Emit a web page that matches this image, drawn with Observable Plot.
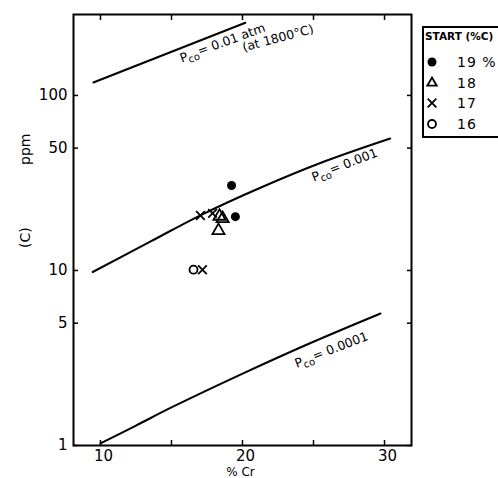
<!DOCTYPE html>
<html><head><meta charset="utf-8">
<script src="https://cdn.jsdelivr.net/npm/d3@7"></script>
<script src="https://cdn.jsdelivr.net/npm/@observablehq/plot@0.6"></script>
<style>html,body{margin:0;padding:0;background:#fff;overflow:hidden}</style>
</head><body><div id="chart"></div>
<script>
// ---- data ----
const xTickLabels = [10, 20, 30];
const xTickMarks = [10, 15, 20, 25, 30];
const yTickValues = [1, 5, 10, 50, 100];

const curveA_X = [9.5, 20.2];                 // Pco = 0.01 atm
const curveA_Y = [118.6, 260];
const curveB_X = [9.45, 13.5, 17.0, 21.3, 25.85, 30.4];   // Pco = 0.001
const curveB_Y = [9.8, 14.6, 20.6, 29.8, 42.2, 56.8];
const curveC_X = [10, 12.5, 15.07, 19.86, 24.79, 29.72];  // Pco = 0.0001
const curveC_Y = [1.027, 1.30, 1.66, 2.54, 3.85, 5.68];

const startLabels = ["19 %", "18", "17", "16"];
const s19X = [19.23, 19.5];          const s19Y = [30.6, 20.3];
const s18X = [18.38, 18.6, 18.31];   const s18Y = [20.4, 19.8, 16.9];
const s17X = [17.04, 17.89, 17.18];  const s17Y = [20.6, 21.2, 10.1];
const s16X = [16.55];                const s16Y = [10.1];

const noteText = ["Pco= 0.01 atm", "(at 1800°C)", "Pco= 0.001", "Pco= 0.0001"];
const noteX = [18.6, 22.5, 27.2, 26.27];
const noteY = [198, 212, 39.8, 3.49];
const noteAngle = [-20, -15, -21, -21];

// ---- tables ----
const zip = (xs, ys) => xs.map((x, i) => ({x, y: ys[i]}));
const curveA = zip(curveA_X, curveA_Y);
const curveB = zip(curveB_X, curveB_Y);
const curveC = zip(curveC_X, curveC_Y);
const s19 = zip(s19X, s19Y), s18 = zip(s18X, s18Y), s17 = zip(s17X, s17Y), s16 = zip(s16X, s16Y);
const notes = noteText.map((t, i) => ({t, x: noteX[i], y: noteY[i], a: noteAngle[i]}));

const FONT = "DejaVu Sans";
const lineOpts = {x: "x", y: "y", stroke: "black", strokeWidth: 2, curve: "catmull-rom"};

const svg = Plot.plot({
  width: 498, height: 478,
  marginLeft: 73, marginRight: 87, marginTop: 14, marginBottom: 33,
  style: {fontFamily: FONT, fontSize: "14px", background: "white", color: "black"},
  x: {domain: [8.1, 31.9]},
  y: {type: "log", domain: [1, 290]},
  marks: [
    Plot.frame({stroke: "black", strokeWidth: 2}),
    Plot.axisX({ticks: xTickLabels, tickSize: 0, tickPadding: 5, dx: 3, tickFormat: d => String(d), label: null, fontSize: 15}),
    Plot.axisX({ticks: xTickMarks, tickSize: -5, text: null, label: null, strokeWidth: 1.5}),
    Plot.axisX({anchor: "top", ticks: xTickMarks, tickSize: -5, text: null, label: null, strokeWidth: 1.5}),
    Plot.axisY({ticks: yTickValues, tickSize: 0, tickPadding: 6, tickFormat: d => String(d), label: null, fontSize: 15}),
    Plot.axisY({ticks: yTickValues, tickSize: -5, text: null, label: null, strokeWidth: 1.5}),
    Plot.axisY({anchor: "right", ticks: yTickValues, tickSize: -5, text: null, label: null, strokeWidth: 1.5}),
    Plot.text(["% Cr"], {frameAnchor: "bottom", dx: -2, dy: 27, fontSize: 12, lineAnchor: "middle"}),
    Plot.text(["ppm"], {frameAnchor: "left", dx: -48, dy: -65, rotate: -90, fontSize: 14}),
    Plot.text(["(C)"], {frameAnchor: "left", dx: -48, dy: 18, rotate: -90, fontSize: 14}),
    Plot.line(curveA, lineOpts),
    Plot.line(curveB, lineOpts),
    Plot.line(curveC, lineOpts),
    Plot.text(notes, {x: "x", y: "y", text: "t", rotate: "a", fontSize: 12.5}),
    Plot.dot(s19, {x: "x", y: "y", symbol: "circle", fill: "black", r: 4.5}),
    Plot.dot(s18, {x: "x", y: "y", symbol: "triangle", stroke: "black", strokeWidth: 1.8, r: 4.5}),
    Plot.dot(s17, {x: "x", y: "y", symbol: "times", stroke: "black", strokeWidth: 1.8, r: 4}),
    Plot.dot(s16, {x: "x", y: "y", symbol: "circle", stroke: "black", fill: "none", strokeWidth: 1.8, r: 4})
  ]
});

// subscript "co" in Pco labels
d3.select(svg).selectAll("text").each(function () {
  const t = this.textContent;
  if (t.startsWith("Pco")) {
    const s = d3.select(this);
    s.text(null);
    s.append("tspan").text("P");
    s.append("tspan").attr("dy", "0.3em").attr("font-size", "0.8em").text("co");
    s.append("tspan").attr("dy", "-0.3em").text(t.slice(3));
  }
});

// legend (drawn into the same svg, right of the frame)
const lg = d3.select(svg).append("g").attr("font-family", FONT).attr("fill", "black").attr("text-anchor", "start");
lg.append("rect").attr("x", 423).attr("y", 27).attr("width", 120).attr("height", 110)
  .attr("fill", "white").attr("stroke", "black").attr("stroke-width", 2);
lg.append("text").attr("x", 425).attr("y", 40).attr("font-size", 10.5).attr("font-weight", "bold").text("START (%C)");
const legSyms = [
  {type: d3.symbolCircle, r: 4.5, fill: "black", stroke: "none"},
  {type: d3.symbolTriangle2, r: 4.5, fill: "none", stroke: "black"},
  {type: d3.symbolTimes, r: 4, fill: "none", stroke: "black"},
  {type: d3.symbolCircle, r: 4, fill: "none", stroke: "black"}
];
const rowY = [62, 83, 103, 124];
startLabels.forEach((lab, i) => {
  const s = legSyms[i];
  lg.append("path").attr("transform", `translate(432,${rowY[i]})`)
    .attr("d", d3.symbol(s.type, Math.PI * s.r * s.r)())
    .attr("fill", s.fill).attr("stroke", s.stroke).attr("stroke-width", 1.8);
  lg.append("text").attr("x", 457).attr("y", rowY[i]).attr("dy", "0.35em")
    .attr("font-size", 14).attr("letter-spacing", 1).text(lab);
});

document.getElementById("chart").appendChild(svg);
</script>
</body></html>
